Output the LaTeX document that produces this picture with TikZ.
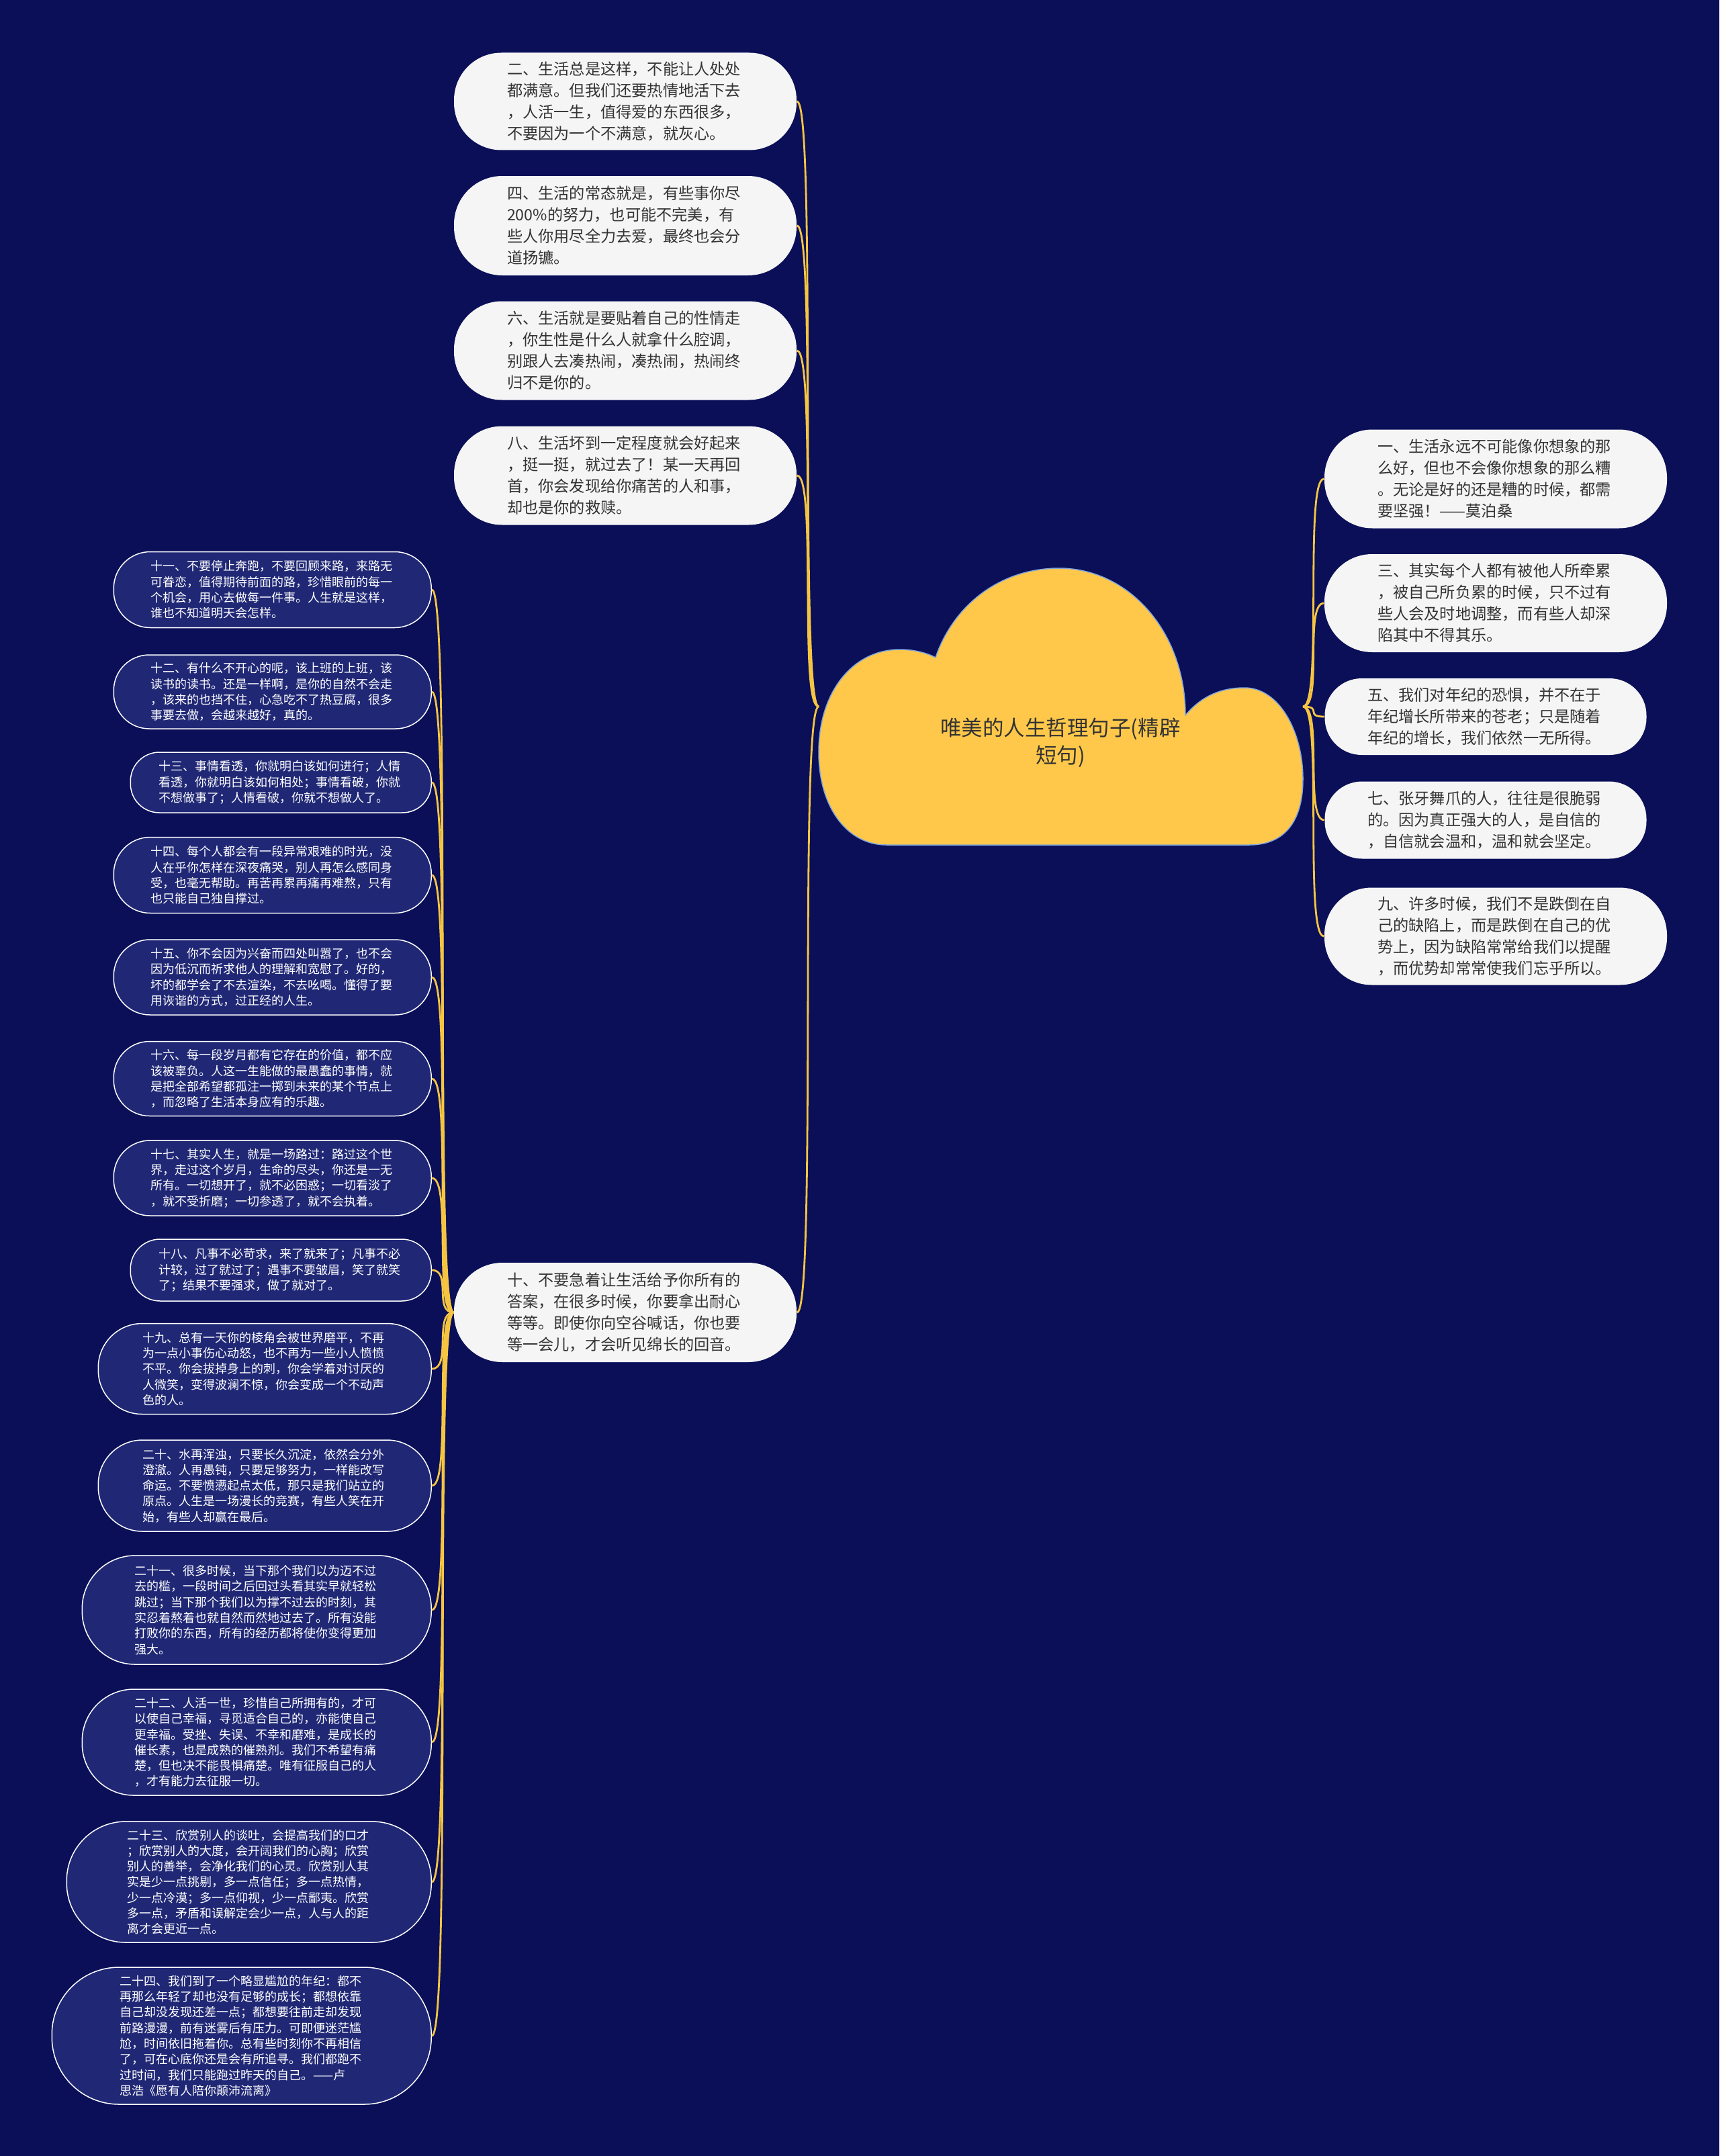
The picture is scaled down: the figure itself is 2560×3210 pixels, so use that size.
\documentclass[tikz,border=0pt]{standalone}
\usepackage{fontspec}
\setmainfont{Noto Sans CJK SC}
\usepackage{tikz}
\usetikzlibrary{positioning}

\definecolor{bgnavy}{RGB}{10,15,88}
\definecolor{leafdark}{RGB}{32,40,118}
\definecolor{leafwhite}{RGB}{245,245,245}
\definecolor{cloudfill}{RGB}{255,200,74}
\definecolor{cloudedge}{RGB}{130,165,220}
\definecolor{linkyellow}{RGB}{245,197,66}
\definecolor{inkgray}{RGB}{51,51,51}

\tikzset{
  wleaf/.style 2 args={fill=leafwhite, text=inkgray, align=left, text width=35.2mm,
    inner sep=0pt, minimum width=#1mm, minimum height=#2mm,
    rounded corners={#2*0.5mm-0.2mm}, font=\fontsize{2.32mm}{3.2mm}\selectfont},
  dleaf/.style 2 args={draw=white, line width=0.15mm, fill=leafdark, text=white,
    align=left, text width=36.3mm, inner sep=0pt, minimum width=#1mm,
    minimum height=#2mm, rounded corners={#2*0.5mm-0.2mm}, anchor=east,
    font=\fontsize{1.8mm}{2.33mm}\selectfont},
  link/.style={draw=linkyellow, line width=0.28mm},
}

\begin{document}
\begin{tikzpicture}[x=0.1mm,y=-0.1mm]
  \useasboundingbox (0,0) rectangle (2560,3210);
  \fill[bgnavy] (0,0) rectangle (2560,3210);

  % central cloud
  \draw[fill=cloudfill, draw=cloudedge, line width=0.15mm]
    (1393,979) .. controls (1420,900) and (1490,846) .. (1577,846)
    .. controls (1680,846) and (1765,940) .. (1765,1065)
    .. controls (1790,1035) and (1820,1024) .. (1853,1024)
    .. controls (1905,1024) and (1940,1090) .. (1940,1160)
    .. controls (1940,1220) and (1915,1258) .. (1860,1258)
    -- (1320,1258)
    .. controls (1260,1258) and (1219,1200) .. (1219,1120)
    .. controls (1219,1030) and (1270,967) .. (1340,967)
    .. controls (1360,967) and (1380,972) .. (1393,979) -- cycle;
  \node[text=inkgray, align=center, font=\fontsize{3.15mm}{4.1mm}\selectfont]
    (root) at (1579,1106) {唯美的人生哲理句子(精辟\\短句)};
  \coordinate (cl) at (1219,1052);
  \coordinate (cr) at (1940,1052);

  % left column, white
  \node[wleaf={51}{14.5}] (n2) at (931,151) {二、生活总是这样，不能让人处处\\都满意。但我们还要热情地活下去\\，人活一生，值得爱的东西很多，\\不要因为一个不满意，就灰心。};
  \node[wleaf={51}{14.8}] (n4) at (931,336) {四、生活的常态就是，有些事你尽\\200\%的努力，也可能不完美，有\\些人你用尽全力去爱，最终也会分\\道扬镳。};
  \node[wleaf={51}{14.7}] (n6) at (931,522) {六、生活就是要贴着自己的性情走\\，你生性是什么人就拿什么腔调，\\别跟人去凑热闹，凑热闹，热闹终\\归不是你的。};
  \node[wleaf={51}{14.7}] (n8) at (931,708) {八、生活坏到一定程度就会好起来\\，挺一挺，就过去了！某一天再回\\首，你会发现给你痛苦的人和事，\\却也是你的救赎。};
  \node[wleaf={51}{14.8}] (n10) at (931,1954) {十、不要急着让生活给予你所有的\\答案，在很多时候，你要拿出耐心\\等等。即使你向空谷喊话，你也要\\等一会儿，才会听见绵长的回音。};

  % right column
  \node[wleaf={51}{14.7}] (n1) at (2227,713) {一、生活永远不可能像你想象的那\\么好，但也不会像你想象的那么糟\\。无论是好的还是糟的时候，都需\\要坚强！——莫泊桑};
  \node[wleaf={51}{14.6}] (n3) at (2227,898) {三、其实每个人都有被他人所牵累\\，被自己所负累的时候，只不过有\\些人会及时地调整，而有些人却深\\陷其中不得其乐。};
  \node[wleaf={47.9}{11.4}] (n5) at (2212,1067) {五、我们对年纪的恐惧，并不在于\\年纪增长所带来的苍老；只是随着\\年纪的增长，我们依然一无所得。};
  \node[wleaf={47.9}{11.5}] (n7) at (2212,1221) {七、张牙舞爪的人，往往是很脆弱\\的。因为真正强大的人，是自信的\\，自信就会温和，温和就会坚定。};
  \node[wleaf={51}{14.5}] (n9) at (2227,1394) {九、许多时候，我们不是跌倒在自\\己的缺陷上，而是跌倒在自己的优\\势上，因为缺陷常常给我们以提醒\\，而优势却常常使我们忘乎所以。};

  % far left, dark
  \node[dleaf={47.3}{11.3}] (n11) at (643,878) {十一、不要停止奔跑，不要回顾来路，来路无\\可眷恋，值得期待前面的路，珍惜眼前的每一\\个机会，用心去做每一件事。人生就是这样，\\谁也不知道明天会怎样。};
  \node[dleaf={47.3}{11.0}] (n12) at (643,1030) {十二、有什么不开心的呢，该上班的上班，该\\读书的读书。还是一样啊，是你的自然不会走\\，该来的也挡不住，心急吃不了热豆腐，很多\\事要去做，会越来越好，真的。};
  \node[dleaf={44.8}{9.0}] (n13) at (643,1165) {十三、事情看透，你就明白该如何进行；人情\\看透，你就明白该如何相处；事情看破，你就\\不想做事了；人情看破，你就不想做人了。};
  \node[dleaf={47.3}{11.3}] (n14) at (643,1303) {十四、每个人都会有一段异常艰难的时光，没\\人在乎你怎样在深夜痛哭，别人再怎么感同身\\受，也毫无帮助。再苦再累再痛再难熬，只有\\也只能自己独自撑过。};
  \node[dleaf={47.3}{11.2}] (n15) at (643,1455) {十五、你不会因为兴奋而四处叫嚣了，也不会\\因为低沉而祈求他人的理解和宽慰了。好的，\\坏的都学会了不去渲染，不去吆喝。懂得了要\\用诙谐的方式，过正经的人生。};
  \node[dleaf={47.3}{11.1}] (n16) at (643,1606) {十六、每一段岁月都有它存在的价值，都不应\\该被辜负。人这一生能做的最愚蠢的事情，就\\是把全部希望都孤注一掷到未来的某个节点上\\，而忽略了生活本身应有的乐趣。};
  \node[dleaf={47.3}{11.2}] (n17) at (643,1754) {十七、其实人生，就是一场路过：路过这个世\\界，走过这个岁月，生命的尽头，你还是一无\\所有。一切想开了，就不必困惑；一切看淡了\\，就不受折磨；一切参透了，就不会执着。};
  \node[dleaf={44.8}{9.2}] (n18) at (643,1891) {十八、凡事不必苛求，来了就来了；凡事不必\\计较，过了就过了；遇事不要皱眉，笑了就笑\\了；结果不要强求，做了就对了。};
  \node[dleaf={49.6}{13.5}] (n19) at (643,2038) {十九、总有一天你的棱角会被世界磨平，不再\\为一点小事伤心动怒，也不再为一些小人愤愤\\不平。你会拔掉身上的刺，你会学着对讨厌的\\人微笑，变得波澜不惊，你会变成一个不动声\\色的人。};
  \node[dleaf={49.6}{13.6}] (n20) at (643,2212) {二十、水再浑浊，只要长久沉淀，依然会分外\\澄澈。人再愚钝，只要足够努力，一样能改写\\命运。不要愤懑起点太低，那只是我们站立的\\原点。人生是一场漫长的竞赛，有些人笑在开\\始，有些人却赢在最后。};
  \node[dleaf={52}{16.2}] (n21) at (643,2397) {二十一、很多时候，当下那个我们以为迈不过\\去的槛，一段时间之后回过头看其实早就轻松\\跳过；当下那个我们以为撑不过去的时刻，其\\实忍着熬着也就自然而然地过去了。所有没能\\打败你的东西，所有的经历都将使你变得更加\\强大。};
  \node[dleaf={52}{15.8}] (n22) at (643,2594) {二十二、人活一世，珍惜自己所拥有的，才可\\以使自己幸福，寻觅适合自己的，亦能使自己\\更幸福。受挫、失误、不幸和磨难，是成长的\\催长素，也是成熟的催熟剂。我们不希望有痛\\楚，但也决不能畏惧痛楚。唯有征服自己的人\\，才有能力去征服一切。};
  \node[dleaf={54.3}{18.0}] (n23) at (643,2802) {二十三、欣赏别人的谈吐，会提高我们的口才\\；欣赏别人的大度，会开阔我们的心胸；欣赏\\别人的善举，会净化我们的心灵。欣赏别人其\\实是少一点挑剔，多一点信任；多一点热情，\\少一点冷漠；多一点仰视，少一点鄙夷。欣赏\\多一点，矛盾和误解定会少一点，人与人的距\\离才会更近一点。};
  \node[dleaf={56.5}{20.4}] (n24) at (643,3031) {二十四、我们到了一个略显尴尬的年纪：都不\\再那么年轻了却也没有足够的成长；都想依靠\\自己却没发现还差一点；都想要往前走却发现\\前路漫漫，前有迷雾后有压力。可即便迷茫尴\\尬，时间依旧拖着你。总有些时刻你不再相信\\了，可在心底你还是会有所追寻。我们都跑不\\过时间，我们只能跑过昨天的自己。——卢\\思浩《愿有人陪你颠沛流离》};

  % connectors
  \foreach \n in {n2,n4,n6,n8,n10}
    \draw[link] (cl) .. controls +(-30,0) and +(30,0) .. (\n.east);
  \foreach \n in {n1,n3,n5,n7,n9}
    \draw[link] (cr) .. controls +(30,0) and +(-30,0) .. (\n.west);
  \foreach \n in {n11,n12,n13,n14,n15,n16,n17,n18,n19,n20,n21,n22,n23,n24}
    \draw[link] (n10.west) .. controls +(-30,0) and +(30,0) .. (\n.east);
\end{tikzpicture}
\end{document}
